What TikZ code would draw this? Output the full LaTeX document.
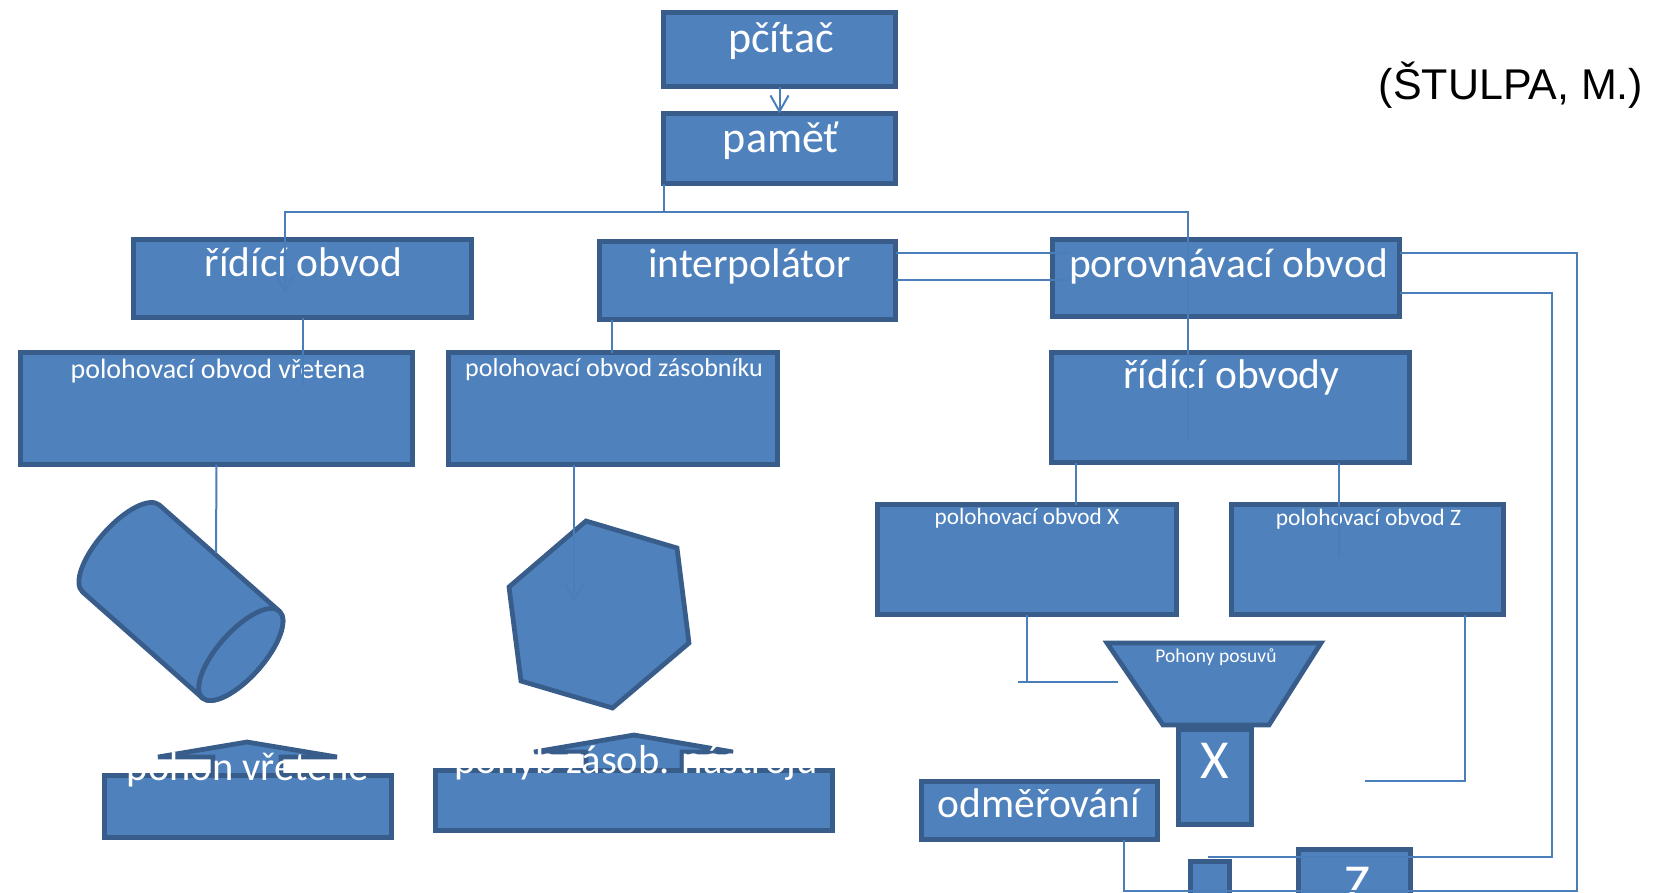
\documentclass[tikz,border=0pt]{standalone}
\usepackage{fontspec}
\setmainfont{Carlito}
\newfontfamily\arialfont{Liberation Sans}
\usetikzlibrary{arrows.meta}
\definecolor{boxfill}{HTML}{4F81BD}
\definecolor{boxline}{HTML}{385D8A}
\definecolor{connline}{HTML}{4A7EBB}

\begin{document}
\begin{tikzpicture}[x=0.4pt, y=-0.4pt,
    box/.style={draw=boxline, fill=boxfill, line width=1.9pt, inner sep=0pt, outer sep=0pt},
    conn/.style={draw=connline, line width=0.8pt},
    arr/.style={conn, -{Straight Barb[length=6.4pt, width=7.2pt]}},
    lbl/.style={text=white, inner sep=0pt, anchor=base},
    ftop/.style={lbl, font=\fontsize{17.6pt}{21pt}\selectfont},
    fbig/.style={lbl, font=\fontsize{16.6pt}{20pt}\selectfont},
    fmid/.style={lbl, font=\fontsize{16.2pt}{20pt}\selectfont},
    fsmall/.style={lbl, font=\fontsize{#1}{12pt}\selectfont},
    fletter/.style={lbl, font=\fontsize{22pt}{26pt}\selectfont}]
    \useasboundingbox (0,0) rectangle (1653,893);
    \clip (0,0) rectangle (1653,893);

    % block arrows under the drive boxes
    \draw[box] (213,790) -- (213,757) -- (158,757) -- (247,742) -- (337,757) -- (281,757) -- (281,790) -- cycle;
    \draw[box] (586,790) -- (586,752) -- (534,752) -- (634,735) -- (733,752) -- (682,752) -- (682,790) -- cycle;

    % boxes
    \node[box, minimum width=92.8pt, minimum height=29.6pt] (pcitac) at (779.5,49.5) {};
    \node[box, minimum width=92.8pt, minimum height=28pt] (pamet) at (779.5,148.5) {};
    \node[box, minimum width=135.2pt, minimum height=31.2pt] (ridobv) at (302.5,278.5) {};
    \node[box, minimum width=118.4pt, minimum height=31.2pt] (interp) at (747.5,280.5) {};
    \node[box, minimum width=138.8pt, minimum height=30.8pt] (porov) at (1226,278) {};
    \node[box, minimum width=156.8pt, minimum height=44.8pt] (polvret) at (216.5,408.5) {};
    \node[box, minimum width=131.6pt, minimum height=44.8pt] (polzas) at (613,408.5) {};
    \node[box, minimum width=143.2pt, minimum height=44pt] (ridobvody) at (1230.5,407.5) {};
    \node[box, minimum width=119.6pt, minimum height=44pt] (polx) at (1027,559.5) {};
    \node[box, minimum width=108.8pt, minimum height=44pt] (polz) at (1367.5,559.5) {};
    \node[box, minimum width=29.2pt, minimum height=38pt] (xbox) at (1215,777) {};
    \node[box, minimum width=94.4pt, minimum height=23.2pt] (odmer) at (1039.5,810.5) {};
    \node[box, minimum width=15.6pt, minimum height=30.4pt] (sbox) at (1210,899.5) {};
    \node[box, minimum width=44.8pt, minimum height=42pt] (zbox) at (1354.5,902) {};
    \node[box, minimum width=114.8pt, minimum height=24.8pt] (pohvret) at (248,806.5) {};
    \node[box, minimum width=158.8pt, minimum height=24pt] (pohzas) at (634,800.5) {};

    % hexagon, cylinder, funnel
    \draw[box] (586,521) -- (677,548) -- (689,643) -- (612.5,708) -- (521,681) -- (509,587) -- cycle;
    \begin{scope}[shift={(121,548.5)}, rotate=-41.5]
        \draw[box] (0,-58) -- (160,-58) arc[start angle=-90, end angle=90, x radius=23, y radius=58]
            -- (0,58) arc[start angle=90, end angle=270, x radius=23, y radius=58] -- cycle;
        \draw[box] (160,0) ellipse[x radius=23, y radius=58];
    \end{scope}
    \draw[box] (1107,643) -- (1321,643) -- (1269,725) -- (1163,725) -- cycle;

    % texts
    \node[ftop] (tpcitac) at (781,52) {pčítač};
    \node[ftop] (tpamet) at (781,152) {paměť};
    \node[fbig] (tridobv) at (303.5,276) {řídící obvod};
    \node[fbig] (tinterp) at (749.5,277) {interpolátor};
    \node[fbig] (tporov) at (1228.5,277) {porovnávací obvod};
    \node[fsmall=11.2pt] (tpolvret) at (218,378) {polohovací obvod vřetena};
    \node[fsmall=10.4pt] (tpolzas) at (614,376) {polohovací obvod zásobníku};
    \node[fbig] (tridobvody) at (1231.5,388) {řídící obvody};
    \node[fsmall=9.3pt] (tpolx) at (1027,524) {polohovací obvod X};
    \node[fsmall=9.4pt] (tpolz) at (1368.5,525) {polohovací obvod Z};
    \node[fsmall=7.8pt] (tpohony) at (1216,662) {Pohony posuvů};
    \node[fletter] (tx) at (1215,778) {X};
    \node[fbig] (todmer) at (1039,817) {odměřování};
    \node[fletter] (tz) at (1357,902) {Z};
    \node[fmid] (tpohvret) at (248,780) {pohon vřetene};
    \node[fmid] (tpohzas) at (636,773) {pohyb zásob. nástroju};
    \node[font=\arialfont\fontsize{17.2pt}{20pt}\selectfont, anchor=base, inner sep=0pt] (autor) at (1511,99) {(ŠTULPA, M.)};

    % connectors
    \coordinate (busL) at (285,212);
    \coordinate (busR) at (1188,212);
    \coordinate (cyltop) at (216,553);
    \coordinate (trapL) at (1118,682);
    \coordinate (fbA) at (1577,891);
    \coordinate (fbB) at (1552,857);
    \draw[arr] (pcitac.south) -- (pamet.north);
    \draw[arr] (pamet.south west) |- (busL) -- ++(0,81);
    \draw[conn] (pamet.south west) |- (busR) -- ++(0,228);
    \draw[conn] (ridobv.south) -- ++(0,68);
    \draw[conn] ([xshift=5pt]interp.south west) -- ([xshift=5pt]interp.south west |- polzas.north);
    \draw[conn] ([yshift=-4.6pt]interp.north east) -- ++(173.5,0);
    \draw[conn] ([yshift=-15.4pt]interp.north east) -- ++(173.5,0);
    \draw[conn] ([yshift=-5.4pt]porov.north east) -| (fbA) -| ([xshift=-13.4pt]odmer.south east);
    \draw[conn] ([yshift=-21.4pt]porov.north east) -| (fbB) -- ++(-344,0);
    \draw[conn] ([xshift=9.8pt]ridobvody.south west) -- ([xshift=9.8pt]ridobvody.south west |- polx.north);
    \draw[conn] ([xshift=-28.2pt]ridobvody.south east) -- ++(0,93.5);
    \draw[conn] (polvret.south) -- (cyltop);
    \draw[arr] ([xshift=50.2pt]polzas.south west) -- ++(0,137.5);
    \draw[conn] (polx.south) -- (polx.south |- trapL);
    \draw[conn] ([xshift=-3.6pt]polx.south |- trapL) -- (trapL);
    \draw[conn] ([xshift=-15.4pt]polz.south east) |- ++(-100,166.5);
\end{tikzpicture}
\end{document}
